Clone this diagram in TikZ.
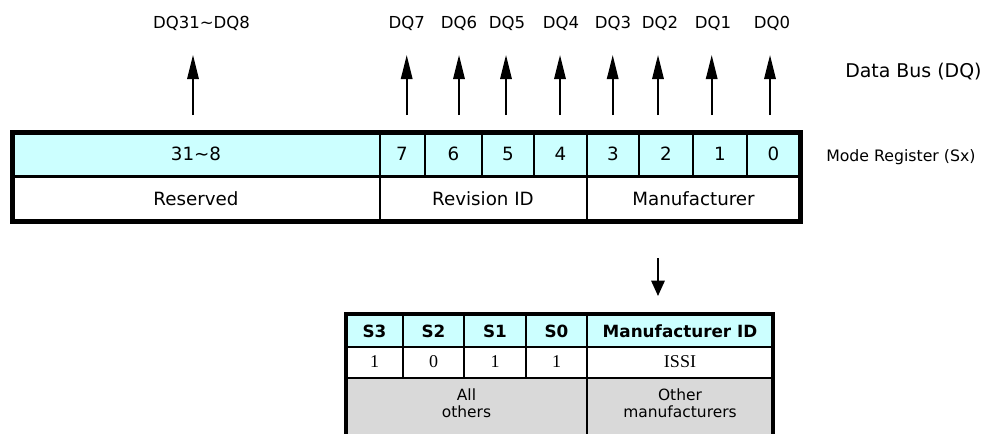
\documentclass[tikz,border=0pt]{standalone}
\usepackage{fontspec}
\setmainfont{DejaVu Sans}
\newfontfamily\serifnum{Liberation Serif}
\usetikzlibrary{arrows.meta}
\definecolor{regcyan}{HTML}{CCFFFF}
\definecolor{tabgray}{HTML}{D9D9D9}
\tikzset{
  txt/.style={inner sep=0pt, font=\fontsize{13.7}{16}\selectfont},
  dqtxt/.style={inner sep=0pt, font=\fontsize{12.4}{14}\selectfont},
  hdr/.style={inner sep=0pt, font=\fontsize{12.6}{14}\selectfont\bfseries},
  numtxt/.style={inner sep=0pt, font=\fontsize{13.5}{15}\serifnum},
  graytxt/.style={inner sep=0pt, align=center, font=\fontsize{11.6}{12.75}\selectfont},
  thickline/.style={line width=3.75pt},
  midline/.style={line width=2.25pt},
  thinline/.style={line width=1.5pt},
  uparr/.style={line width=1.5pt, -{Triangle[length=18pt,width=8.5pt]}},
  downarr/.style={line width=1.5pt, -{Triangle[length=11.5pt,width=10pt]}},
}
\begin{document}
\begin{tikzpicture}[x=0.75pt,y=-0.75pt]
\clip (0,0) rectangle (983,433);
\fill[white] (0,0) rectangle (983,433);
% ---------- register ----------
\fill[regcyan] (12.5,132) rectangle (800,176);
\fill[white] (12.5,176) rectangle (800,221);
\foreach \x in {425,482,534,639,693,747} \draw[thinline] (\x,132) -- (\x,176);
\draw[thinline] (379.5,132) -- (379.5,221);
\draw[thinline] (587,132) -- (587,221);
\draw[midline] (12.5,176) -- (800,176);
\draw[thickline] (12.5,132) rectangle (800,221);
% cell labels
\node[txt] (c31) at (196,154) {31\char`\~8};
\node[txt] (c7) at (402,154) {7};
\node[txt] (c6) at (453.5,154) {6};
\node[txt] (c5) at (508,154) {5};
\node[txt] (c4) at (560.5,154) {4};
\node[txt] (c3) at (613,154) {3};
\node[txt] (c2) at (666,154) {2};
\node[txt] (c1) at (720,154) {1};
\node[txt] (c0) at (773.5,154) {0};
\node[txt] (res) at (196,198.5) {Reserved};
\node[txt] (rev) at (483,198.5) {Revision ID};
\node[txt] (man) at (693.5,198.5) {Manufacturer};
\node[inner sep=0pt, font=\fontsize{11.8}{14}\selectfont, anchor=west] (modereg) at (826,157) {Mode Register (Sx)};
\node[inner sep=0pt, font=\fontsize{14.2}{16}\selectfont, anchor=west] (databus) at (845,72) {Data Bus (DQ)};
% ---------- data bus arrows ----------
\foreach \n/\x in {31/193, 7/406.7, 6/459, 5/506, 4/560, 3/612.7, 2/658, 1/711.7, 0/770}{
  \coordinate (t\n) at (\x,115);
  \coordinate (h\n) at (\x,55);
  \draw[uparr] (t\n) -- (h\n);
}
\node[dqtxt] (l31) at (201.5,23) {DQ31\char`\~DQ8};
\node[dqtxt] (l7) at (406.7,23) {DQ7};
\node[dqtxt] (l6) at (459,23) {DQ6};
\node[dqtxt] (l5) at (507,23) {DQ5};
\node[dqtxt] (l4) at (561,23) {DQ4};
\node[dqtxt] (l3) at (613,23) {DQ3};
\node[dqtxt] (l2) at (660,23) {DQ2};
\node[dqtxt] (l1) at (713,23) {DQ1};
\node[dqtxt] (l0) at (772,23) {DQ0};
% ---------- down arrow ----------
\coordinate (dtail) at (658,258);
\coordinate (dhead) at (658,296);
\draw[downarr] (dtail) -- (dhead);
% ---------- manufacturer table ----------
\fill[regcyan] (346,314) rectangle (773,347);
\fill[white] (346,347) rectangle (773,378);
\fill[tabgray] (346,378) rectangle (773,450);
\foreach \x in {403,464,526} \draw[thinline] (\x,314) -- (\x,378);
\draw[thinline] (587,314) -- (587,450);
\draw[thinline] (346,347) -- (773,347);
\draw[thinline] (346,378) -- (773,378);
\draw[line width=3pt] (346,450) -- (346,314) -- (773,314) -- (773,450);
\node[hdr] (s3) at (374.5,331.5) {S3};
\node[hdr] (s2) at (433.5,331.5) {S2};
\node[hdr] (s1) at (495,331.5) {S1};
\node[hdr] (s0) at (556.5,331.5) {S0};
\node[hdr] (mid) at (680,331.5) {Manufacturer ID};
\node[numtxt] (v3) at (374.5,362) {1};
\node[numtxt] (v2) at (433.5,362) {0};
\node[numtxt] (v1) at (495,362) {1};
\node[numtxt] (v0) at (556.5,362) {1};
\node[numtxt] (issi) at (680,362) {ISSI};
\node[graytxt] (allo) at (466.5,403.5) {All\\others};
\node[graytxt] (otherm) at (680,403.5) {Other\\manufacturers};
\end{tikzpicture}
\end{document}
